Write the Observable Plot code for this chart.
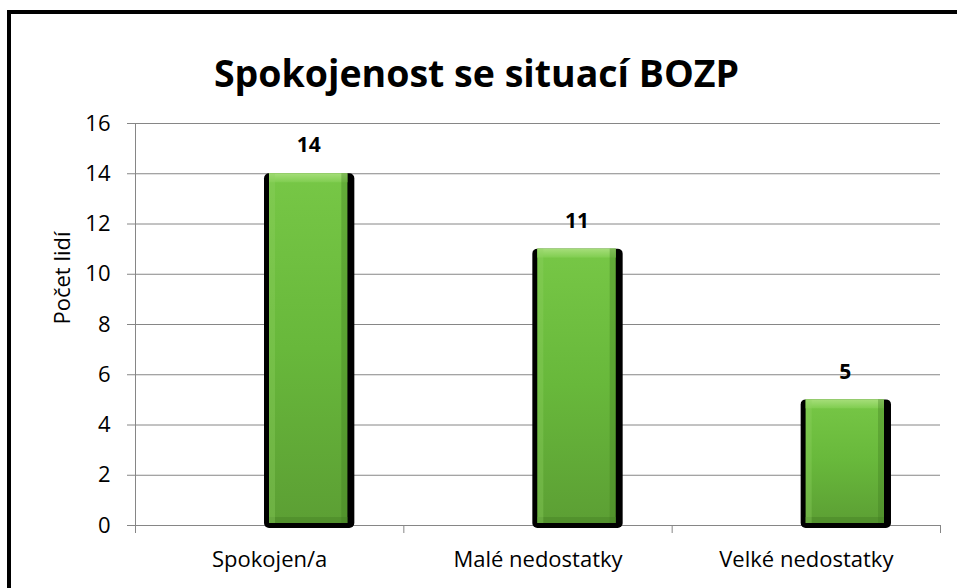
<!DOCTYPE html>
<html>
<head>
<meta charset="utf-8">
<script src="https://cdn.jsdelivr.net/npm/d3@7"></script>
<script src="https://cdn.jsdelivr.net/npm/@observablehq/plot@0.6"></script>
<style>
  html, body { margin: 0; padding: 0; background: #fff; }
  body { width: 957px; height: 588px; overflow: hidden; position: relative; font-family: "Open Sans", "Liberation Sans", sans-serif; }
  #border { position: absolute; left: 7px; top: 10px; width: 1000px; height: 700px; border-left: 4px solid #000; border-top: 4px solid #000; box-sizing: border-box; pointer-events: none; z-index: 2; }
  #title { height: 100px; box-sizing: border-box; padding-top: 47px; line-height: normal; text-align: center; font-weight: 700; font-size: 37.5px; color: #000; width: 953px; white-space: nowrap; overflow: visible; }
  #title span { display: inline-block; line-height: normal; }
  #chart svg { display: block; }
</style>
</head>
<body>
<div id="border"></div>
<div id="title"><span></span></div>
<div id="chart"></div>
<script>
const titleText = "Spokojenost se situací BOZP";
const yAxisLabel = "Počet lidí";
const categories = ["Spokojen/a", "Malé nedostatky", "Velké nedostatky"];
const values = [14, 11, 5];
const yTicks = [0, 2, 4, 6, 8, 10, 12, 14, 16];

document.querySelector("#title span").textContent = titleText;
// keep the title block exactly 100px tall
document.getElementById("title").style.overflow = "hidden";
document.getElementById("title").style.height = "100px";

const data = categories.map((c, i) => ({category: c, value: values[i]}));
const gridColor = "#868686";
const band = (957 - 135 - 17) / 3;
const halfBand = band / 2;

const chart = Plot.plot({
  width: 957,
  height: 488,
  marginTop: 23,
  marginBottom: 63,
  marginLeft: 135,
  marginRight: 17,
  x: {domain: categories, padding: 0, round: false, label: null},
  y: {domain: [0, 16], label: null},
  style: {fontFamily: "'Open Sans', 'Liberation Sans', sans-serif", fontSize: "22px", color: "#000", background: "transparent", overflow: "visible"},
  marks: [
    Plot.gridY(yTicks.filter(d => d > 0), {stroke: gridColor, strokeOpacity: 1}),
    Plot.ruleY([0], {stroke: gridColor}),
    Plot.frame({anchor: "left", stroke: gridColor}),
    Plot.axisY(yTicks, {tickSize: 8, tickPadding: 17, stroke: gridColor, fill: "#000", fontSize: 22, label: null}),
    Plot.axisX({tickSize: 0, tickPadding: 26, fill: "#000", fontSize: 22, label: null}),
    Plot.ruleX(categories, {x: d => d, y1: 0, y2: 0, dx: -halfBand, insetBottom: -8, stroke: gridColor}),
    Plot.ruleX(categories.slice(-1), {x: d => d, y1: 0, y2: 0, dx: halfBand, insetBottom: -8, stroke: gridColor}),
    // dark shadow behind bars
    Plot.barY(data, {x: "category", y: "value", fill: "#000", rx: 5, insetLeft: 129, insetRight: 49, insetTop: 0, insetBottom: -3}),
    // main green body
    Plot.barY(data, {x: "category", y: "value", fill: "url(#greenBody)", insetLeft: 134, insetRight: 56, insetBottom: 2}),
    // top bevel
    Plot.barY(data, {x: "category", y1: "value", y2: "value", fill: "url(#greenTop)", insetLeft: 134, insetRight: 56, insetBottom: -9}),
    // bottom bevel
    Plot.barY(data, {x: "category", y1: 0, y2: 0, fill: "#4f8b2b", fillOpacity: 0.7, insetLeft: 134, insetRight: 56, insetTop: -8, insetBottom: 2}),
    // left / right bevels
    Plot.barY(data, {x: "category", y: "value", fill: "#8fd160", fillOpacity: 0.35, insetLeft: 134, insetRight: band - 140, insetBottom: 2}),
    Plot.barY(data, {x: "category", y: "value", fill: "#3f7a20", fillOpacity: 0.35, insetLeft: band - 62, insetRight: 56, insetBottom: 2}),
    Plot.text(data, {x: "category", y: "value", text: d => String(d.value), dx: 39, dy: -28, fontWeight: "bold", fontSize: 21, fill: "#000"}),
    Plot.text([yAxisLabel], {frameAnchor: "left", dx: -73, rotate: -90, fontSize: 22, fill: "#000"})
  ]
});

const ns = "http://www.w3.org/2000/svg";
const defs = document.createElementNS(ns, "defs");
defs.innerHTML = `
  <linearGradient id="greenBody" x1="0" y1="0" x2="0" y2="1">
    <stop offset="0" stop-color="#77c746"/>
    <stop offset="0.5" stop-color="#68b83b"/>
    <stop offset="1" stop-color="#5c9f34"/>
  </linearGradient>
  <linearGradient id="greenTop" x1="0" y1="0" x2="0" y2="1">
    <stop offset="0" stop-color="#a6de7a"/>
    <stop offset="1" stop-color="#80cd50"/>
  </linearGradient>`;
chart.insertBefore(defs, chart.firstChild);
document.getElementById("chart").appendChild(chart);
</script>
</body>
</html>
